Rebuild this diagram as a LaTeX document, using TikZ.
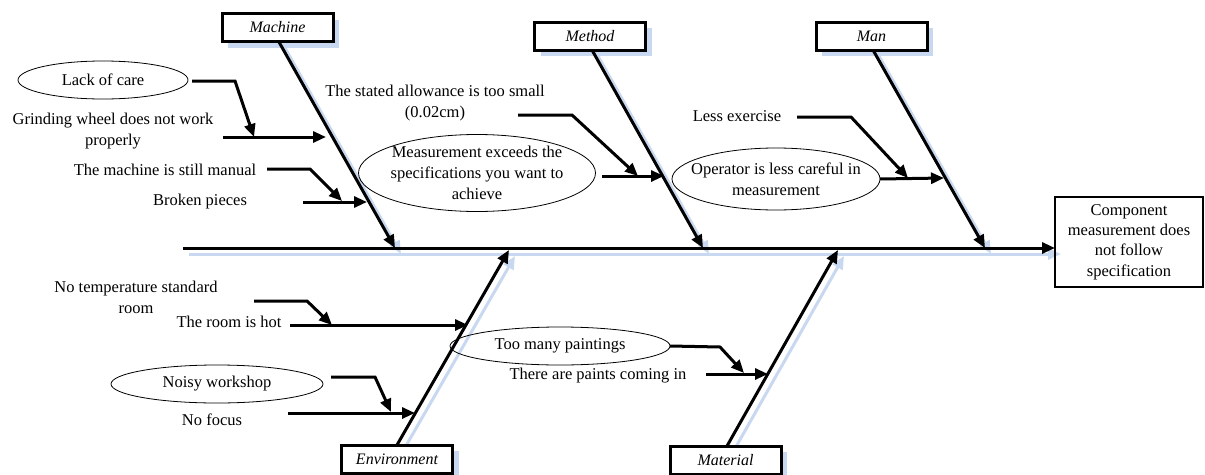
\documentclass[tikz,border=0pt]{standalone}
\usepackage{fontspec}
\setmainfont{Liberation Serif}
\usetikzlibrary{arrows.meta,shapes.geometric,backgrounds}
\definecolor{shadowblue}{RGB}{200,216,240}
\begin{document}
\begin{tikzpicture}[x=1pt,y=-1pt,
  every node/.style={font=\fontsize{16.5}{21}\selectfont, inner sep=0pt, outer sep=0pt},
  bone/.style={line width=3pt, -{Triangle[length=13pt,width=11pt]}},
  sbone/.style={bone, draw=shadowblue},
  catbox/.style={draw, line width=3pt, minimum width=111pt, minimum height=28pt, font=\fontsize{16}{20}\selectfont\itshape, fill=white},
  oval/.style={draw, ellipse, line width=0.8pt},
  txt/.style={align=center},
]
\useasboundingbox (0,0) rectangle (1205,474);

% category boxes
\node[catbox] (machine) at (277.5,27.5) {Machine};
\node[catbox] (method) at (590,36) {Method};
\node[catbox] (man) at (871.5,36) {Man};
\node[catbox] (env) at (397,459) {Environment};
\node[catbox] (mat) at (725.5,460) {Material};

% result box
\node[draw, line width=1.2pt, minimum width=148pt, minimum height=90pt, align=center, font=\fontsize{16.5}{20.3}\selectfont] (res) at (1129,242) {Component\\measurement does\\not follow\\specification};

% spine and bone coordinates
\coordinate (spine0) at (183,248);
\coordinate (spine1) at (spine0 -| res.west);
\coordinate (m0) at (279,42);  \coordinate (m1) at (395,248);
\coordinate (t0) at (592,50);  \coordinate (t1) at (703,248);
\coordinate (n0) at (873,50);  \coordinate (n1) at (985,248);
\coordinate (e0) at (397,445); \coordinate (e1) at (509,250);
\coordinate (a0) at (727,446); \coordinate (a1) at (838,250);

% shadows
\begin{pgfonlayer}{background}
  \foreach \b in {machine,method,man,env,mat}{
    \fill[shadowblue] ([shift={(6,6)}]\b.south west) rectangle ([shift={(6,6)}]\b.north east);
  }
  \foreach \p/\q in {spine0/spine1,m0/m1,t0/t1,n0/n1,e0/e1,a0/a1}{
    \draw[sbone] ([shift={(6,6)}]\p) -- ([shift={(6,6)}]\q);
  }
\end{pgfonlayer}

% main bones
\draw[bone] (spine0) -- (spine1);
\draw[bone] (m0) -- (m1);
\draw[bone] (t0) -- (t1);
\draw[bone] (n0) -- (n1);
\draw[bone] (e0) -- (e1);
\draw[bone] (a0) -- (a1);

% causes - Machine
\node[oval, minimum width=170pt, minimum height=38pt] (lack) at (103,80) {};
\node[txt] (lackt) at (lack.center) {Lack of care};
\node[txt] (grind) at (113,131) {Grinding wheel does not work\\properly};
\node[txt] (manual) at (165,170) {The machine is still manual};
\node[txt] (broken) at (200,202) {Broken pieces};

\coordinate (c1a) at (192,81); \coordinate (c1b) at (235,81); \coordinate (c1c) at (254,137);
\coordinate (c2a) at (223,137); \coordinate (c2b) at (326,137);
\coordinate (c3a) at (267,169); \coordinate (c3b) at (310,169); \coordinate (c3c) at (342,201);
\coordinate (c4a) at (303,202); \coordinate (c4b) at (367,202);
\draw[bone] (c1a) -- (c1b) -- (c1c);
\draw[bone] (c2a) -- (c2b);
\draw[bone] (c3a) -- (c3b) -- (c3c);
\draw[bone] (c4a) -- (c4b);

% causes - Method
\node[txt] (allow) at (435,103) {The stated allowance is too small\\(0.02cm)};
\node[oval, minimum width=237pt, minimum height=77pt] (meas) at (477,173) {};
\node[txt] (meast) at (meas.center) {Measurement exceeds the\\specifications you want to\\achieve};
\coordinate (c5a) at (518,115); \coordinate (c5b) at (572,115); \coordinate (c5c) at (638,176);
\coordinate (c6a) at (602,176); \coordinate (c6b) at (664,176);
\draw[bone] (c5a) -- (c5b) -- (c5c);
\draw[bone] (c6a) -- (c6b);

% causes - Man
\node[txt] (less) at (737,116) {Less exercise};
\node[oval, minimum width=208pt, minimum height=62pt] (oper) at (776,179) {};
\node[txt] (opert) at (oper.center) {Operator is less careful in\\measurement};
\coordinate (c7a) at (797,117); \coordinate (c7b) at (851,117); \coordinate (c7c) at (908,178);
\coordinate (c8b) at (944,178);
\draw[bone] (c7a) -- (c7b) -- (c7c);
\draw[bone] (oper.east) -- (c8b);

% causes - Environment
\node[txt] (notemp) at (136,297) {No temperature standard\\room};
\node[txt] (hot) at (229,322) {The room is hot};
\node[oval, minimum width=212pt, minimum height=38pt] (noisy) at (217,384) {};
\node[txt] (noisyt) at (noisy.center) {Noisy workshop};
\node[txt] (focus) at (212,420) {No focus};
\coordinate (c9a) at (254,301); \coordinate (c9b) at (307,301); \coordinate (c9c) at (332,325);
\coordinate (c10a) at (290,325); \coordinate (c10b) at (468,325);
\coordinate (c11a) at (331,377); \coordinate (c11b) at (375,377); \coordinate (c11c) at (391,412);
\coordinate (c12a) at (288,413); \coordinate (c12b) at (415,413);
\draw[bone] (c9a) -- (c9b) -- (c9c);
\draw[bone] (c10a) -- (c10b);
\draw[bone] (c11a) -- (c11b) -- (c11c);
\draw[bone] (c12a) -- (c12b);

% causes - Material
\node[oval, minimum width=220pt, minimum height=38pt] (paint) at (560,346) {};
\node[txt] (paintt) at (paint.center) {Too many paintings};
\node[txt] (coming) at (598,376) {There are paints coming in};
\coordinate (c13b) at (720,347); \coordinate (c13c) at (744,373);
\coordinate (c14a) at (706,374); \coordinate (c14b) at (768,374);
\draw[bone] (paint.east) -- (c13b) -- (c13c);
\draw[bone] (c14a) -- (c14b);
\end{tikzpicture}
\end{document}
